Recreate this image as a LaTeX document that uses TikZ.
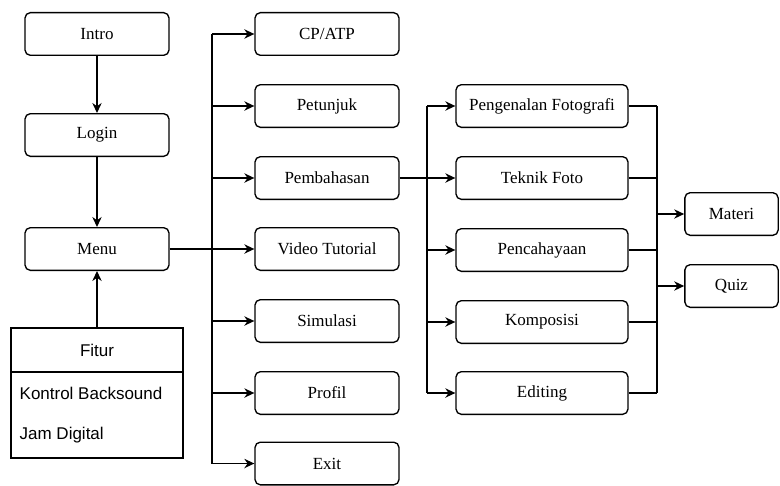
\documentclass[tikz,border=0pt]{standalone}
\usepackage{fontspec}
\setmainfont{Liberation Serif}
\newfontfamily\fiturfont{Liberation Sans}
\usetikzlibrary{arrows.meta}

\begin{document}
\begin{tikzpicture}
    [x=0.75pt, y=-0.75pt, line width=1pt,
    >={Stealth[length=7.5pt, width=7pt]},
    box/.style={draw, rounded corners=4pt, minimum width=108pt,
        minimum height=32pt, inner sep=0pt,
        font=\fontsize{12.75}{15}\selectfont},
    widebox/.style={box, minimum width=129pt},
    smallbox/.style={box, minimum width=70pt},
    sans/.style={inner sep=0pt, font=\fiturfont\fontsize{12.75}{15}\selectfont}]
    \useasboundingbox (0, 0) rectangle (780, 485);
    % left column
    \node[box] (intro) at (97, 34) {Intro};
    \node[box] (login) at (97, 135) {Login};
    \node[box] (menu) at (97, 249) {Menu};
    \node[draw, minimum width=129pt, minimum height=97.5pt] (fitur) at (97, 393) {};
    \coordinate (fsep) at (97, 372);
    \draw (fitur.west |- fsep) -- (fitur.east |- fsep);
    \node[sans] (fiturhead) at (97, 350) {Fitur};
    \node[sans, anchor=west] (kontrol) at (19, 393) {Kontrol Backsound};
    \node[sans, anchor=west] (jam) at (19, 435) {Jam Digital};
    % menu items
    \node[box] (cpatp) at (327, 34) {CP/ATP};
    \node[box] (petunjuk) at (327, 106) {Petunjuk};
    \node[box] (pembahasan) at (327, 178) {Pembahasan};
    \node[box] (video) at (327, 249) {Video Tutorial};
    \node[box] (simulasi) at (327, 321) {Simulasi};
    \node[box] (profil) at (327, 393) {Profil};
    \node[box] (exit) at (327, 463.5) {Exit};
    % pembahasan items
    \node[widebox] (pengenalan) at (542, 106) {Pengenalan Fotografi};
    \node[widebox] (teknik) at (542, 178) {Teknik Foto};
    \node[widebox] (pencahayaan) at (542, 250) {Pencahayaan};
    \node[widebox] (komposisi) at (542, 322) {Komposisi};
    \node[widebox] (editing) at (542, 393) {Editing};
    \node[smallbox] (materi) at (731.5, 214) {Materi};
    \node[smallbox] (quiz) at (731.5, 286) {Quiz};
    \coordinate (b1) at (212, 0);
    \coordinate (b2) at (427, 0);
    \coordinate (b3) at (657, 0);
    % connectors
    \draw[->] (intro) -- (login);
    \draw[->] (login) -- (menu);
    \draw[->] (fitur) -- (menu);
    \draw[->] (menu) -- (video);
    \draw (b1 |- cpatp) -- (b1 |- exit);
    \foreach \n in {cpatp, petunjuk, pembahasan, simulasi, profil, exit}
        \draw[->] (b1 |- \n) -- (\n);
    \draw[->] (pembahasan) -- (teknik);
    \draw (b2 |- pengenalan) -- (b2 |- editing);
    \foreach \n in {pengenalan, pencahayaan, komposisi, editing}
        \draw[->] (b2 |- \n) -- (\n);
    \draw (b3 |- pengenalan) -- (b3 |- editing);
    \foreach \n in {pengenalan, teknik, pencahayaan, komposisi, editing}
        \draw (\n) -- (b3 |- \n);
    \draw[->] (b3 |- materi) -- (materi);
    \draw[->] (b3 |- quiz) -- (quiz);
\end{tikzpicture}
\end{document}
